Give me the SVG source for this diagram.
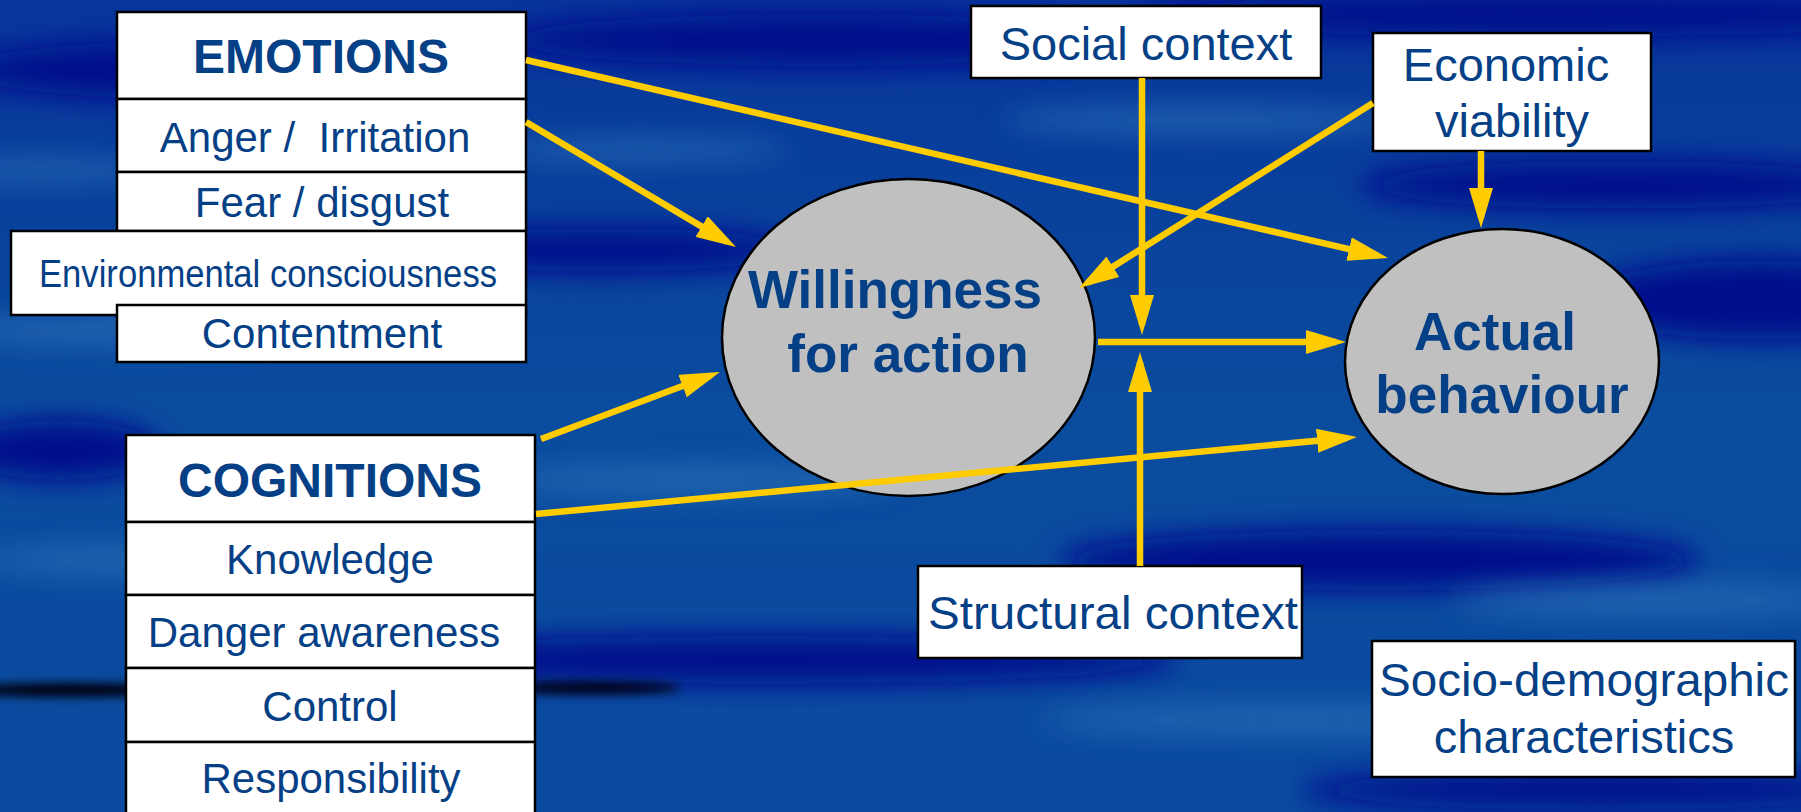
<svg xmlns="http://www.w3.org/2000/svg" width="1801" height="812" viewBox="0 0 1801 812">
<style>
.box{fill:#ffffff;stroke:#000000;stroke-width:2.5}
.ell{fill:#c0c0c0;stroke:#000000;stroke-width:2.5}
.t{font-family:"Liberation Sans",Arial,sans-serif;fill:#053f86;text-anchor:middle;white-space:pre}
.b{font-weight:bold}
.con{stroke:#ffcc00;stroke-width:6.5;fill:none;marker-end:url(#ah)}
</style>
<defs>
<linearGradient id="bg" x1="0" y1="0" x2="0" y2="1">
<stop offset="0" stop-color="#07359a"/>
<stop offset="0.5" stop-color="#0a4c9e"/>
<stop offset="1" stop-color="#0a4aa0"/>
</linearGradient>
<filter id="blur" x="-50%" y="-200%" width="200%" height="500%"><feGaussianBlur stdDeviation="14"/></filter>
<filter id="blur2" x="-50%" y="-200%" width="200%" height="500%"><feGaussianBlur stdDeviation="5"/></filter>
<marker id="ah" markerUnits="userSpaceOnUse" markerWidth="40" markerHeight="24" viewBox="0 0 40 24" refX="30" refY="12" orient="auto">
<path d="M0,0 L40,12 L0,24 z" fill="#ffcc00"/>
</marker>
</defs>
<g id="background">
<rect x="0" y="0" width="1801" height="812" fill="url(#bg)"/>
<g filter="url(#blur)" fill="#00078c">
<ellipse cx="220" cy="70" rx="260" ry="30"/>
<ellipse cx="820" cy="40" rx="320" ry="26"/>
<ellipse cx="1550" cy="15" rx="420" ry="22"/>
<ellipse cx="1620" cy="185" rx="260" ry="24"/>
<ellipse cx="1760" cy="300" rx="180" ry="40"/>
<ellipse cx="600" cy="250" rx="200" ry="22"/>
<ellipse cx="1380" cy="560" rx="320" ry="30"/>
<ellipse cx="760" cy="660" rx="420" ry="24"/>
<ellipse cx="1600" cy="790" rx="300" ry="20"/>
<ellipse cx="60" cy="450" rx="100" ry="30"/>
</g>
<g filter="url(#blur)" fill="#2a72b8" opacity="0.75">
<ellipse cx="140" cy="330" rx="200" ry="14"/>
<ellipse cx="160" cy="560" rx="180" ry="14"/>
<ellipse cx="40" cy="170" rx="120" ry="10"/>
<ellipse cx="700" cy="480" rx="200" ry="14"/>
<ellipse cx="1300" cy="720" rx="260" ry="14"/>
<ellipse cx="1650" cy="600" rx="200" ry="14"/>
<ellipse cx="1200" cy="120" rx="200" ry="12"/>
<ellipse cx="640" cy="150" rx="150" ry="10"/>
</g>
<g filter="url(#blur2)" fill="#000010">
<ellipse cx="70" cy="690" rx="110" ry="7"/>
<ellipse cx="590" cy="688" rx="90" ry="6"/>
</g>
</g>
<g id="emotions">
<rect class="box" x="117" y="12" width="409" height="87"/>
<text class="t b" x="321" y="73" font-size="48">EMOTIONS</text>
</g>
<g id="anger">
<rect class="box" x="117" y="99" width="409" height="73"/>
<text class="t" x="315" y="152" font-size="42">Anger /  Irritation</text>
</g>
<g id="fear">
<rect class="box" x="117" y="172" width="409" height="59"/>
<text class="t" x="322" y="217" font-size="42">Fear / disgust</text>
</g>
<g id="environmental">
<rect class="box" x="11" y="231" width="515" height="84"/>
<text class="t" x="268" y="287" font-size="38" textLength="458" lengthAdjust="spacingAndGlyphs">Environmental consciousness</text>
</g>
<g id="contentment">
<rect class="box" x="117" y="305" width="409" height="57"/>
<text class="t" x="322" y="348" font-size="42">Contentment</text>
</g>
<g id="cognitions">
<rect class="box" x="126" y="435" width="409" height="87"/>
<text class="t b" x="330" y="497" font-size="48">COGNITIONS</text>
</g>
<g id="knowledge">
<rect class="box" x="126" y="522" width="409" height="73"/>
<text class="t" x="330" y="574" font-size="42">Knowledge</text>
</g>
<g id="danger">
<rect class="box" x="126" y="595" width="409" height="73"/>
<text class="t" x="324" y="647" font-size="42">Danger awareness</text>
</g>
<g id="control">
<rect class="box" x="126" y="668" width="409" height="74"/>
<text class="t" x="330" y="721" font-size="42">Control</text>
</g>
<g id="responsibility">
<rect class="box" x="126" y="742" width="409" height="80"/>
<text class="t" x="331" y="793" font-size="42">Responsibility</text>
</g>
<g id="willingness">
<ellipse class="ell" cx="908.5" cy="337.5" rx="186.5" ry="158.5"/>
<text class="t b" x="895" y="308" font-size="53">Willingness</text>
<text class="t b" x="908" y="372" font-size="53">for action</text>
</g>
<g id="actual">
<ellipse class="ell" cx="1502" cy="361.5" rx="157" ry="132.5"/>
<text class="t b" x="1495" y="350" font-size="53">Actual</text>
<text class="t b" x="1502" y="413" font-size="53">behaviour</text>
</g>
<g id="social">
<rect class="box" x="971" y="6" width="350" height="72"/>
<text class="t" x="1146" y="60" font-size="47">Social context</text>
</g>
<g id="economic">
<rect class="box" x="1373" y="33" width="278" height="118"/>
<text class="t" x="1506" y="81" font-size="47">Economic</text>
<text class="t" x="1512" y="137" font-size="47">viability</text>
</g>
<g id="structural">
<rect class="box" x="918" y="566" width="384" height="92"/>
<text class="t" x="1113" y="629" font-size="47" textLength="370" lengthAdjust="spacingAndGlyphs">Structural context</text>
</g>
<g id="sociodemographic">
<rect class="box" x="1372" y="641" width="423" height="136"/>
<text class="t" x="1584" y="696" font-size="47" textLength="410" lengthAdjust="spacingAndGlyphs">Socio-demographic</text>
<text class="t" x="1584" y="753" font-size="47">characteristics</text>
</g>
<g id="connectors">
<line class="con" x1="526" y1="60" x2="1378.3" y2="255.8"/>
<line class="con" x1="526" y1="122" x2="727.4" y2="241.9"/>
<line class="con" x1="1373" y1="103" x2="1087.5" y2="282.7"/>
<line class="con" x1="1142" y1="78" x2="1142" y2="325"/>
<line class="con" x1="1140" y1="566" x2="1140" y2="362"/>
<line class="con" x1="1098" y1="342" x2="1336" y2="342"/>
<line class="con" x1="1481" y1="151" x2="1481" y2="218"/>
<line class="con" x1="541" y1="439" x2="710.6" y2="375.5"/>
<line class="con" x1="536" y1="514" x2="1347" y2="437.9"/>
</g>
</svg>
